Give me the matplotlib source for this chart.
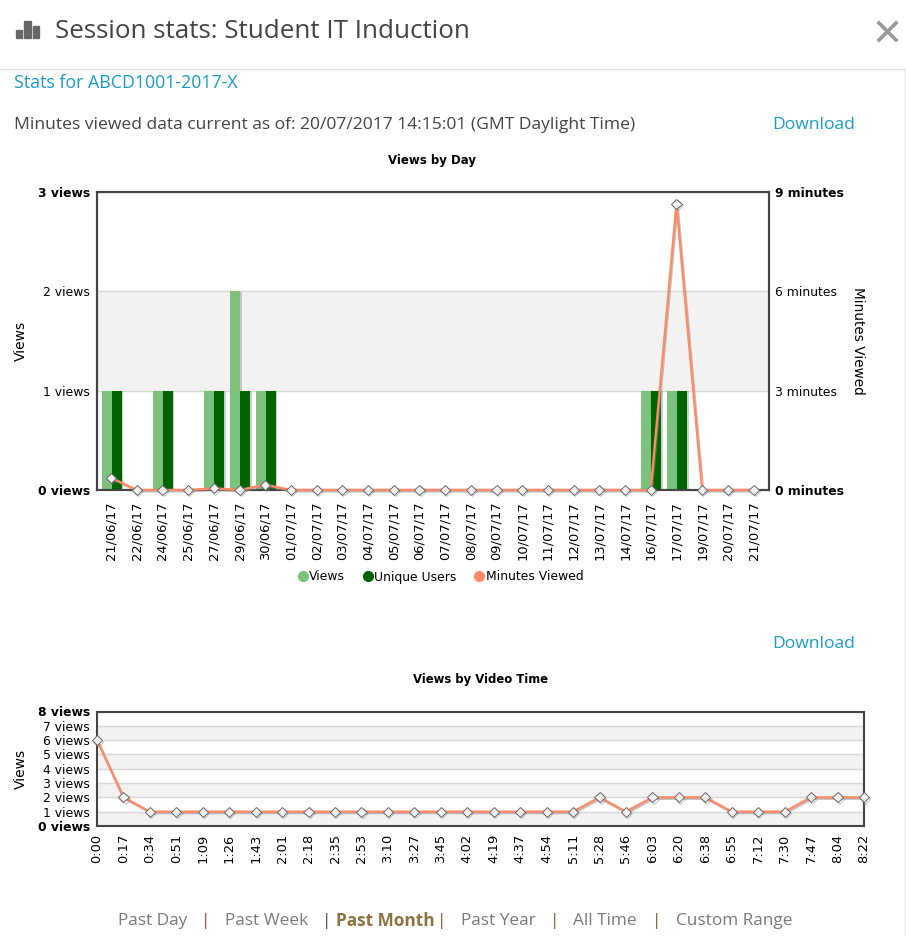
import matplotlib
matplotlib.use("Agg")
import matplotlib.pyplot as plt
import matplotlib.patheffects as pe
from matplotlib.lines import Line2D
from matplotlib.patches import Rectangle
import numpy as np

W, H = 906, 936

day_labels = ["21/06/17", "22/06/17", "24/06/17", "25/06/17", "27/06/17", "29/06/17", "30/06/17",
              "01/07/17", "02/07/17", "03/07/17", "04/07/17", "05/07/17", "06/07/17", "07/07/17",
              "08/07/17", "09/07/17", "10/07/17", "11/07/17", "12/07/17", "13/07/17", "14/07/17",
              "16/07/17", "17/07/17", "19/07/17", "20/07/17", "21/07/17"]
day_views = [1, 0, 1, 0, 1, 2, 1, 0, 0, 0, 0, 0, 0, 0, 0, 0, 0, 0, 0, 0, 0, 1, 1, 0, 0, 0]
day_users = [1, 0, 1, 0, 1, 1, 1, 0, 0, 0, 0, 0, 0, 0, 0, 0, 0, 0, 0, 0, 0, 1, 1, 0, 0, 0]
day_minutes = [0.37, 0, 0, 0, 0.05, 0, 0.16, 0, 0, 0, 0, 0, 0, 0, 0, 0, 0, 0, 0, 0, 0, 0, 8.64, 0, 0, 0]

time_labels = ["0:00", "0:17", "0:34", "0:51", "1:09", "1:26", "1:43", "2:01", "2:18", "2:35",
               "2:53", "3:10", "3:27", "3:45", "4:02", "4:19", "4:37", "4:54", "5:11", "5:28",
               "5:46", "6:03", "6:20", "6:38", "6:55", "7:12", "7:30", "7:47", "8:04", "8:22"]
time_views = [6, 2, 1, 1, 1, 1, 1, 1, 1, 1, 1, 1, 1, 1, 1, 1, 1, 1, 1, 2, 1, 2, 2, 2, 1, 1, 1, 2, 2, 2]

LIGHT = "#7cc17c"
DARK = "#006400"
ORANGE = "#ff8a65"
FRAME = "#444444"
BLUE = "#1a9bc7"
BODY = "#444444"
UI = "Open Sans"
TICK = 8.9


def make_axes(left, top, right, bottom):
    return fig.add_axes([left / W, 1 - bottom / H, (right - left) / W, (bottom - top) / H])


def style_frame(ax, xpad):
    for s in ax.spines.values():
        s.set_color(FRAME)
        s.set_linewidth(1.5)
    ax.set_axisbelow(True)
    ax.tick_params(axis="y", length=0, labelsize=TICK, pad=5.2)
    ax.tick_params(axis="x", length=0, labelsize=9.4, pad=xpad)
    ax.grid(axis="y", color="#d8d8d8", lw=1)


def draw_line(ax, x, y):
    ax.plot(x, y, color=ORANGE, lw=1.7, marker="D", ms=5.2, mfc="#f2f2f2", mec="#666666", mew=0.7,
            clip_on=False, zorder=5,
            path_effects=[pe.SimpleLineShadow(offset=(0.8, -1), shadow_color="#888888", alpha=0.5), pe.Normal()])


def bold_ends(labels):
    labels[0].set_fontweight("bold")
    labels[-1].set_fontweight("bold")


fig = plt.figure(figsize=(W / 100, H / 100), dpi=100)
fig.patch.set_facecolor("white")

# header
fig.add_artist(Rectangle((16 / W, 1 - 38 / H), 6 / W, 8 / H, color="#666666"))
fig.add_artist(Rectangle((24 / W, 1 - 38 / H), 7 / W, 17 / H, color="#666666"))
fig.add_artist(Rectangle((33 / W, 1 - 38 / H), 6 / W, 12 / H, color="#666666"))
fig.text(55 / W, 1 - 31.5 / H, "Session stats: Student IT Induction", fontsize=18.7, family=UI, color=BODY, va="center")
fig.add_artist(Line2D([879 / W, 896 / W], [1 - 23 / H, 1 - 40 / H], color="#999999", lw=2.6))
fig.add_artist(Line2D([879 / W, 896 / W], [1 - 40 / H, 1 - 23 / H], color="#999999", lw=2.6))
fig.add_artist(Line2D([0, 1], [1 - 68.5 / H, 1 - 68.5 / H], color="#e2e2e2", lw=1))
fig.add_artist(Line2D([905 / W, 905 / W], [0, 1 - 68.5 / H], color="#e8e8e8", lw=1))
fig.text(14 / W, 1 - 83 / H, "Stats for ABCD1001-2017-X", fontsize=12.8, family=UI, color=BLUE, va="center")
fig.text(14 / W, 1 - 125 / H, "Minutes viewed data current as of: 20/07/2017 14:15:01 (GMT Daylight Time)",
         fontsize=12.6, family=UI, color=BODY, va="center")
fig.text(772 / W, 1 - 125 / H, "Download", fontsize=12.6, family=UI, color=BLUE, va="center")
fig.text(772 / W, 1 - 644 / H, "Download", fontsize=12.6, family=UI, color=BLUE, va="center")

# views by day
ax = make_axes(97, 192, 769, 490)
x = np.arange(len(day_labels))
style_frame(ax, 8.3)
ax.axhspan(1, 2, color="#f2f2f2", zorder=0)
bar_fx = [pe.SimplePatchShadow(offset=(1, -0.3), shadow_rgbFace="#888888", alpha=0.4), pe.Normal()]
ax.bar(x - 0.17, day_views, 0.39, color=LIGHT, zorder=2, path_effects=bar_fx)
ax.bar(x + 0.22, day_users, 0.39, color=DARK, zorder=2, path_effects=bar_fx)
ax.set_xlim(-0.545, 25.6)
ax.set_ylim(0, 3)
ax.set_yticks([0, 1, 2, 3])
ax.set_yticklabels([f"{v} views" for v in [0, 1, 2, 3]])
bold_ends(ax.get_yticklabels())
ax.set_xticks(x)
ax.set_xticklabels(day_labels, rotation=90)
ax.set_ylabel("Views", fontsize=10, va="center")
ax.yaxis.set_label_coords((21 - 97) / 672, 0.5)
fig.text(432 / W, 1 - 160.5 / H, "Views by Day", fontsize=8.5, fontweight="bold", ha="center", va="center")

ax2 = ax.twinx()
ax2.set_ylim(0, 9)
ax2.set_yticks([0, 3, 6, 9])
ax2.set_yticklabels([f"{v} minutes" for v in [0, 3, 6, 9]])
ax2.tick_params(length=0, labelsize=TICK, pad=4)
bold_ends(ax2.get_yticklabels())
for s in ax2.spines.values():
    s.set_color(FRAME)
    s.set_linewidth(1.5)
ax2.set_ylabel("Minutes Viewed", fontsize=9.8, rotation=270, va="center")
ax2.yaxis.set_label_coords((858 - 97) / 672, 0.5)
draw_line(ax2, x, day_minutes)

handles = [Line2D([], [], ls="", marker="o", ms=7, color=LIGHT),
           Line2D([], [], ls="", marker="o", ms=7, color=DARK),
           Line2D([], [], ls="", marker="o", ms=7, color=ORANGE)]
fig.legend(handles, ["Views", "Unique Users", "Minutes Viewed"], loc="center", ncol=3, frameon=False,
           bbox_to_anchor=(440 / W, 1 - 577 / H), fontsize=8.9, handletextpad=0.0, columnspacing=1.35,
           handlelength=1.0, borderpad=0)

# views by video time
ax3 = make_axes(97, 711.5, 864, 826)
t = np.arange(len(time_labels))
style_frame(ax3, 5.5)
for lo in [0, 2, 4, 6]:
    ax3.axhspan(lo, lo + 1, color="#f2f2f2", zorder=0)
ax3.set_xlim(0, len(time_labels) - 1)
ax3.set_ylim(0, 8)
ax3.set_yticks(range(9))
ax3.set_yticklabels([f"{v} views" for v in range(9)])
bold_ends(ax3.get_yticklabels())
ax3.set_xticks(t)
ax3.set_xticklabels(time_labels, rotation=90)
ax3.set_ylabel("Views", fontsize=10, va="center")
ax3.yaxis.set_label_coords((21 - 97) / 767, 0.5)
draw_line(ax3, t, time_views)
fig.text(480 / W, 1 - 679 / H, "Views by Video Time", fontsize=8.4, fontweight="bold", ha="center", va="center")

# range links
GREY = "#7a7a7a"
for tx, label in [(118, "Past Day"), (225, "Past Week"), (461, "Past Year"), (573, "All Time"), (676, "Custom Range")]:
    fig.text(tx / W, 1 - 921 / H, label, fontsize=12.4, family=UI, color=GREY, va="center")
fig.text(336 / W, 1 - 921 / H, "Past Month", fontsize=12.4, family=UI, color="#8a7340", fontweight="bold", va="center")
for sx, c in [(206, "#a04040"), (327, "#404060"), (442, "#805030"), (555, "#805030"), (657, "#805030")]:
    fig.text(sx / W, 1 - 921 / H, "|", fontsize=12.5, family=UI, color=c, ha="center", va="center")

fig.savefig("out.png", dpi=100)
